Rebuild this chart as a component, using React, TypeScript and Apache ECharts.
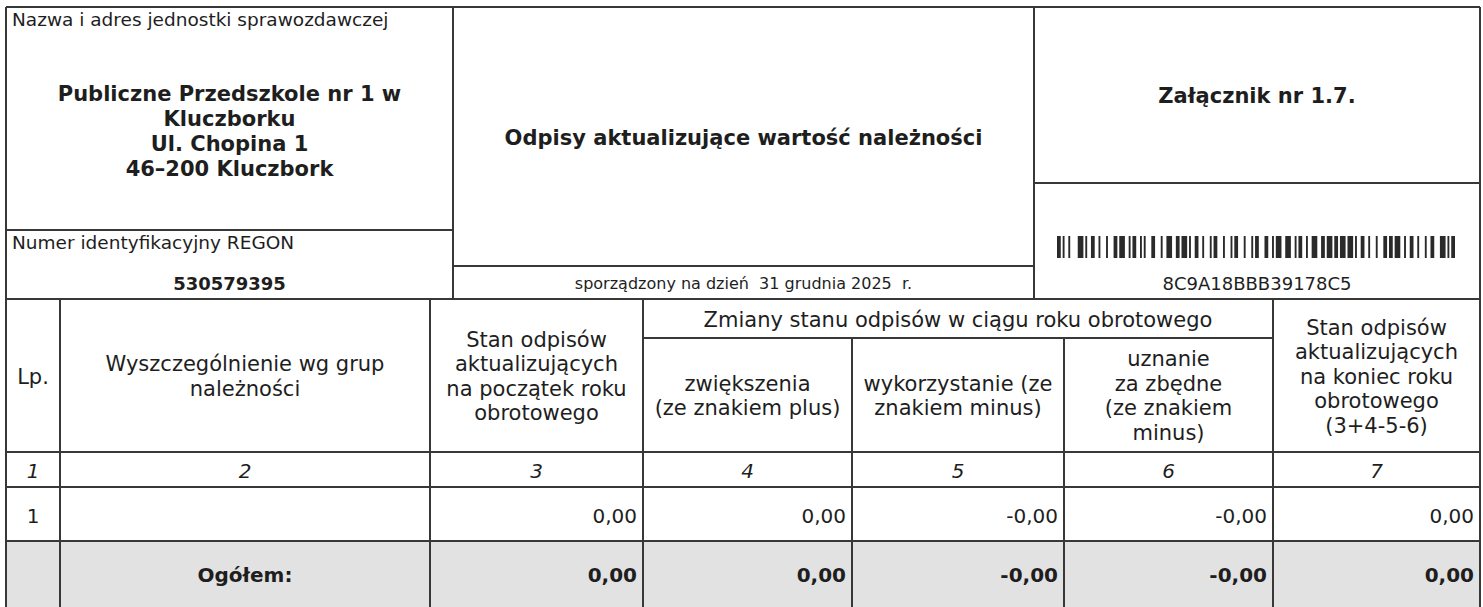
import React, { useEffect, useRef } from 'react';
import * as echarts from 'echarts';

// ---------- content ----------
const unitLabel = 'Nazwa i adres jednostki sprawozdawczej';
const unitNameLines = ['Publiczne Przedszkole nr 1 w', 'Kluczborku', 'Ul. Chopina 1', '46–200 Kluczbork'];
const regonLabel = 'Numer identyfikacyjny REGON';
const regonValue = '530579395';
const reportTitle = 'Odpisy aktualizujące wartość należności';
const reportDate = 'sporządzony na dzień  31 grudnia 2025  r.';
const annexTitle = 'Załącznik nr 1.7.';
const barcodeText = '8C9A18BBB39178C5';

const headerTexts = [
  'Lp.',
  'Wyszczególnienie wg grup\nnależności',
  'Stan odpisów\naktualizujących\nna początek roku\nobrotowego',
  'zwiększenia\n(ze znakiem plus)',
  'wykorzystanie (ze\nznakiem minus)',
  'uznanie\nza zbędne\n(ze znakiem\nminus)',
  'Stan odpisów\naktualizujących\nna koniec roku\nobrotowego\n(3+4-5-6)',
];
const groupHeader = 'Zmiany stanu odpisów w ciągu roku obrotowego';
const columnNumbers = ['1', '2', '3', '4', '5', '6', '7'];
const rowLp = ['1'];
const rowNames = [''];
const rowValues = [['0,00', '0,00', '-0,00', '-0,00', '0,00']];
const totalLabel = 'Ogółem:';
const totalValues = ['0,00', '0,00', '-0,00', '-0,00', '0,00'];

// Code 128 symbol patterns (bar/space module widths)
const CODE128 = [
  '212222','222122','222221','121223','121322','131222','122213','122312','132212','221213',
  '221312','231212','112232','122132','122231','113222','123122','123221','223211','221132',
  '221231','213212','223112','312131','311222','321122','321221','312212','322112','322211',
  '212123','212321','232121','111323','131123','131321','112313','132113','132311','211313',
  '231113','231311','112133','112331','132131','113123','113321','133121','313121','211331',
  '231131','213113','213311','213131','311123','311321','331121','312113','312311','332111',
  '314111','221411','431111','111224','111422','121124','121421','141122','141221','112214',
  '112412','122114','122411','142112','142211','241211','221114','413111','241112','134111',
  '111242','121142','121241','114212','124112','124211','411212','421112','421211','212141',
  '214121','412121','111143','111341','131141','114113','114311','411113','411311','113141',
  '114131','311141','411131','211412','211214','211232','2331112',
];

function code128Widths(s: string): number[] {
  const codes = [104];
  for (const ch of s) codes.push(ch.charCodeAt(0) - 32);
  let sum = 104;
  for (let i = 1; i < codes.length; i++) sum += codes[i] * i;
  codes.push(sum % 103);
  codes.push(106);
  const w: number[] = [];
  codes.forEach((c) => CODE128[c].split('').forEach((d) => w.push(+d)));
  return w;
}

// ---------- layout ----------
const FONT = '"DejaVu Sans", sans-serif';
const INK = '#1e1e1e';
const LINE = '#383838';
const LEFT = 6;
const RIGHT = 1480;
const TOP = 7;
const MID_Y = 299;
const TOP_COLS = [453, 1034];
const COLS = [6, 60, 430, 643, 852, 1064, 1273, 1480];
const ROW_SUB = 338;
const ROW_HEAD = 452;
const ROW_NUM = 487;
const ROW_DATA = 541;
const ROW_TOTAL = 607;

function line(x1: number, y1: number, x2: number, y2: number, w = 2) {
  return { type: 'line', silent: true, z: 10, shape: { x1, y1, x2, y2 }, style: { stroke: LINE, lineWidth: w } };
}

function text(t: string, x: number, y: number, o: any = {}) {
  return {
    type: 'text',
    silent: true,
    z: 20,
    style: {
      text: t,
      x,
      y,
      fill: INK,
      fontFamily: FONT,
      fontSize: o.size || 20,
      fontWeight: o.bold ? 'bold' : 'normal',
      fontStyle: o.italic ? 'italic' : 'normal',
      textAlign: o.align || 'center',
      textVerticalAlign: 'middle',
      lineHeight: o.lh || 24.5,
    },
  };
}

function buildElements() {
  const els: any[] = [];

  // total row background
  els.push({
    type: 'rect',
    silent: true,
    z: 1,
    shape: { x: LEFT, y: ROW_DATA, width: RIGHT - LEFT, height: ROW_TOTAL - ROW_DATA },
    style: { fill: '#e2e2e2' },
  });

  // outer frame
  els.push(line(LEFT, TOP, RIGHT, TOP));
  els.push(line(LEFT, TOP, LEFT, ROW_TOTAL));
  els.push(line(RIGHT, TOP, RIGHT, ROW_TOTAL));
  els.push(line(LEFT, MID_Y, RIGHT, MID_Y));

  // top section
  els.push(line(TOP_COLS[0], TOP, TOP_COLS[0], MID_Y));
  els.push(line(TOP_COLS[1], TOP, TOP_COLS[1], MID_Y));
  els.push(line(LEFT, 230, TOP_COLS[0], 230));
  els.push(line(TOP_COLS[0], 266, TOP_COLS[1], 266));
  els.push(line(TOP_COLS[1], 183, RIGHT, 183));

  const leftC = (LEFT + TOP_COLS[0]) / 2;
  const midC = (TOP_COLS[0] + TOP_COLS[1]) / 2;
  const rightC = (TOP_COLS[1] + RIGHT) / 2;

  els.push(text(unitLabel, 12, 19, { align: 'left', size: 18.5 }));
  els.push(text(unitNameLines.join('\n'), leftC, 131, { bold: true, size: 21, lh: 25 }));
  els.push(text(regonLabel, 12, 242, { align: 'left', size: 18.5 }));
  els.push(text(regonValue, leftC, 283, { bold: true, size: 18 }));

  els.push(text(reportTitle, midC, 138, { bold: true, size: 21 }));
  els.push(text(reportDate, midC, 283, { size: 16 }));

  els.push(text(annexTitle, rightC, 96, { bold: true, size: 21 }));

  // barcode
  const widths = code128Widths(barcodeText);
  const total = widths.reduce((a, b) => a + b, 0);
  const bx0 = 1057;
  const bx1 = 1455;
  const unit = (bx1 - bx0) / total;
  let cx = bx0;
  widths.forEach((w, i) => {
    if (i % 2 === 0) {
      els.push({
        type: 'rect',
        silent: true,
        z: 5,
        shape: { x: cx, y: 236, width: w * unit, height: 22 },
        style: { fill: '#2a2a2a' },
      });
    }
    cx += w * unit;
  });
  els.push(text(barcodeText, rightC, 283, { size: 18 }));

  // table grid
  [COLS[1], COLS[2], COLS[3], COLS[6]].forEach((x) => els.push(line(x, MID_Y, x, ROW_TOTAL)));
  [COLS[4], COLS[5]].forEach((x) => els.push(line(x, ROW_SUB, x, ROW_TOTAL)));
  els.push(line(COLS[3], ROW_SUB, COLS[6], ROW_SUB));
  [ROW_HEAD, ROW_NUM, ROW_DATA].forEach((y) => els.push(line(LEFT, y, RIGHT, y)));

  const colCenter = (i: number) => (COLS[i] + COLS[i + 1]) / 2;

  // headers
  els.push(text(groupHeader, (COLS[3] + COLS[6]) / 2, (MID_Y + ROW_SUB) / 2 + 1, { size: 21 }));
  headerTexts.forEach((h, i) => {
    const inSub = i >= 3 && i <= 5;
    const y0 = inSub ? ROW_SUB : MID_Y;
    els.push(text(h, colCenter(i), (y0 + ROW_HEAD) / 2 + 1, { size: 21 }));
  });

  // column numbers
  columnNumbers.forEach((n, i) => {
    els.push(text(n, colCenter(i), (ROW_HEAD + ROW_NUM) / 2 + 1, { size: 20, italic: true }));
  });

  // data rows
  rowValues.forEach((vals, r) => {
    const y = (ROW_NUM + ROW_DATA) / 2 + 2;
    els.push(text(rowLp[r], colCenter(0), y, { size: 20 }));
    els.push(text(rowNames[r], COLS[1] + 6, y, { size: 20, align: 'left' }));
    vals.forEach((v, j) => {
      els.push(text(v, COLS[j + 3] - 6, y, { size: 20, align: 'right' }));
    });
  });

  // total row
  const ty = (ROW_DATA + ROW_TOTAL) / 2 + 1;
  els.push(text(totalLabel, colCenter(1), ty, { size: 20, bold: true }));
  totalValues.forEach((v, j) => {
    els.push(text(v, COLS[j + 3] - 6, ty, { size: 20, bold: true, align: 'right' }));
  });

  return els;
}

export default function App() {
  const ref = useRef<HTMLDivElement>(null);
  useEffect(() => {
    if (!ref.current) return;
    const chart = echarts.init(ref.current, null, { renderer: 'svg' });
    chart.setOption({
      animation: false,
      backgroundColor: '#ffffff',
      graphic: { elements: buildElements() },
    });
    return () => chart.dispose();
  }, []);
  return (
    <div
      ref={ref}
      style={{ position: 'fixed', left: 0, top: 0, width: 1483, height: 607, background: '#fff' }}
    />
  );
}
